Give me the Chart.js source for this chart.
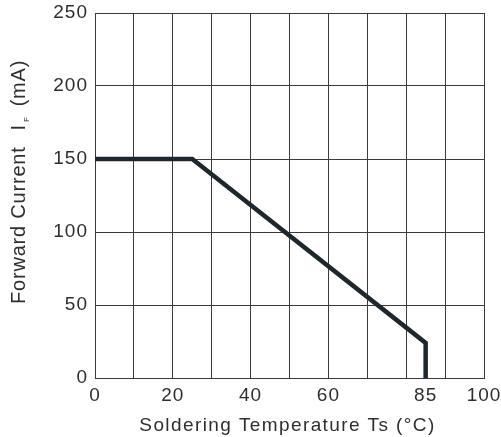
<!DOCTYPE html>
<html>
<head>
<meta charset="utf-8">
<script src="https://cdn.jsdelivr.net/npm/chart.js@4.4.1/dist/chart.umd.min.js"></script>
<style>
    html, body { margin: 0; padding: 0; background: #ffffff; }
    #wrap { width: 501px; height: 437px; position: relative; }
</style>
</head>
<body>
<div id="wrap"><canvas id="derating-chart"></canvas></div>
<script>
// derating curve
const temps = [0, 25, 85, 85];
const currents = [150, 150, 24, 0];

const xGridValues = [0, 10, 20, 30, 40, 50, 60, 70, 80, 90, 100];
const xTickLabels = [0, 20, 40, 60, 85, 100];
const yTickValues = [0, 50, 100, 150, 200, 250];

const xTitle = 'Soldering Temperature Ts (°C)';
const yTitleMain = 'Forward Current';
const yTitleSymbol = 'I';
const yTitleSub = 'F';
const yTitleUnit = '(mA)';

const FONT = '"Liberation Sans", Arial, sans-serif';
const TEXT_COLOR = '#2e2e2e';
const GRID_COLOR = '#3a3a3a';

const axisTitles = {
    id: 'axisTitles',
    beforeDraw(chart) {
        chart.ctx.letterSpacing = '1px';
    },
    afterDraw(chart) {
        const ctx = chart.ctx;
        const area = chart.chartArea;
        ctx.save();
        ctx.fillStyle = TEXT_COLOR;
        ctx.letterSpacing = '1.4px';
        ctx.font = '19px ' + FONT;
        ctx.textBaseline = 'alphabetic';
        ctx.textAlign = 'center';
        ctx.fillText(xTitle, (area.left + area.right) / 2 - 2, 431);

        // y title, rotated, drawn piece by piece for the subscript
        ctx.letterSpacing = '0.8px';
        ctx.translate(25, 0);
        ctx.rotate(-Math.PI / 2);
        ctx.textAlign = 'left';
        let pos = -304;
        ctx.font = '20px ' + FONT;
        ctx.fillText(yTitleMain, pos, 0);
        pos += ctx.measureText(yTitleMain).width + 16;
        ctx.fillText(yTitleSymbol, pos, 0);
        pos += ctx.measureText(yTitleSymbol).width + 2;
        ctx.font = '8px ' + FONT;
        ctx.fillText(yTitleSub, pos, 4);
        pos += ctx.measureText(yTitleSub).width + 10;
        ctx.font = '20px ' + FONT;
        ctx.fillText(yTitleUnit, pos, 0);
        ctx.restore();
    }
};

const ctx = document.getElementById('derating-chart').getContext('2d');

new Chart(ctx, {
    type: 'line',
    data: {
        datasets: [{
            data: temps.map((t, i) => ({ x: t, y: currents[i] })),
            borderColor: '#1d272c',
            borderWidth: 4.5,
            pointRadius: 0,
            tension: 0,
            fill: false
        }]
    },
    options: {
        responsive: true,
        maintainAspectRatio: false,
        animation: false,
        layout: {
            padding: { top: 13, right: 17, left: 0, bottom: 0 }
        },
        plugins: {
            legend: { display: false },
            tooltip: { enabled: false }
        },
        scales: {
            x: {
                type: 'linear',
                min: 0,
                max: 100,
                afterBuildTicks: function(scale) {
                    const values = xGridValues.concat([85]).sort((a, b) => a - b);
                    scale.ticks = values.map(v => ({ value: v }));
                },
                afterFit: function(scale) {
                    scale.height = 59;
                    scale.paddingLeft = 0;
                    scale.paddingRight = 0;
                },
                grid: {
                    drawTicks: false,
                    color: function(context) {
                        if (context.tick && context.tick.value === 85) return 'rgba(0,0,0,0)';
                        return GRID_COLOR;
                    },
                    lineWidth: 1
                },
                border: { display: true, color: GRID_COLOR, width: 1 },
                ticks: {
                    autoSkip: false,
                    maxRotation: 0,
                    padding: 6,
                    color: TEXT_COLOR,
                    font: { family: FONT, size: 19 },
                    callback: function(value) {
                        return xTickLabels.includes(value) ? String(value) : '';
                    }
                }
            },
            y: {
                type: 'linear',
                min: 0,
                max: 250,
                afterBuildTicks: function(scale) {
                    scale.ticks = yTickValues.map(v => ({ value: v }));
                },
                afterFit: function(scale) {
                    scale.width = 95;
                    scale.paddingTop = 0;
                    scale.paddingBottom = 0;
                },
                grid: {
                    drawTicks: false,
                    color: GRID_COLOR,
                    lineWidth: 1
                },
                border: { display: true, color: GRID_COLOR, width: 1 },
                ticks: {
                    padding: 7,
                    color: TEXT_COLOR,
                    font: { family: FONT, size: 19 }
                }
            }
        }
    },
    plugins: [axisTitles]
});
</script>
</body>
</html>
